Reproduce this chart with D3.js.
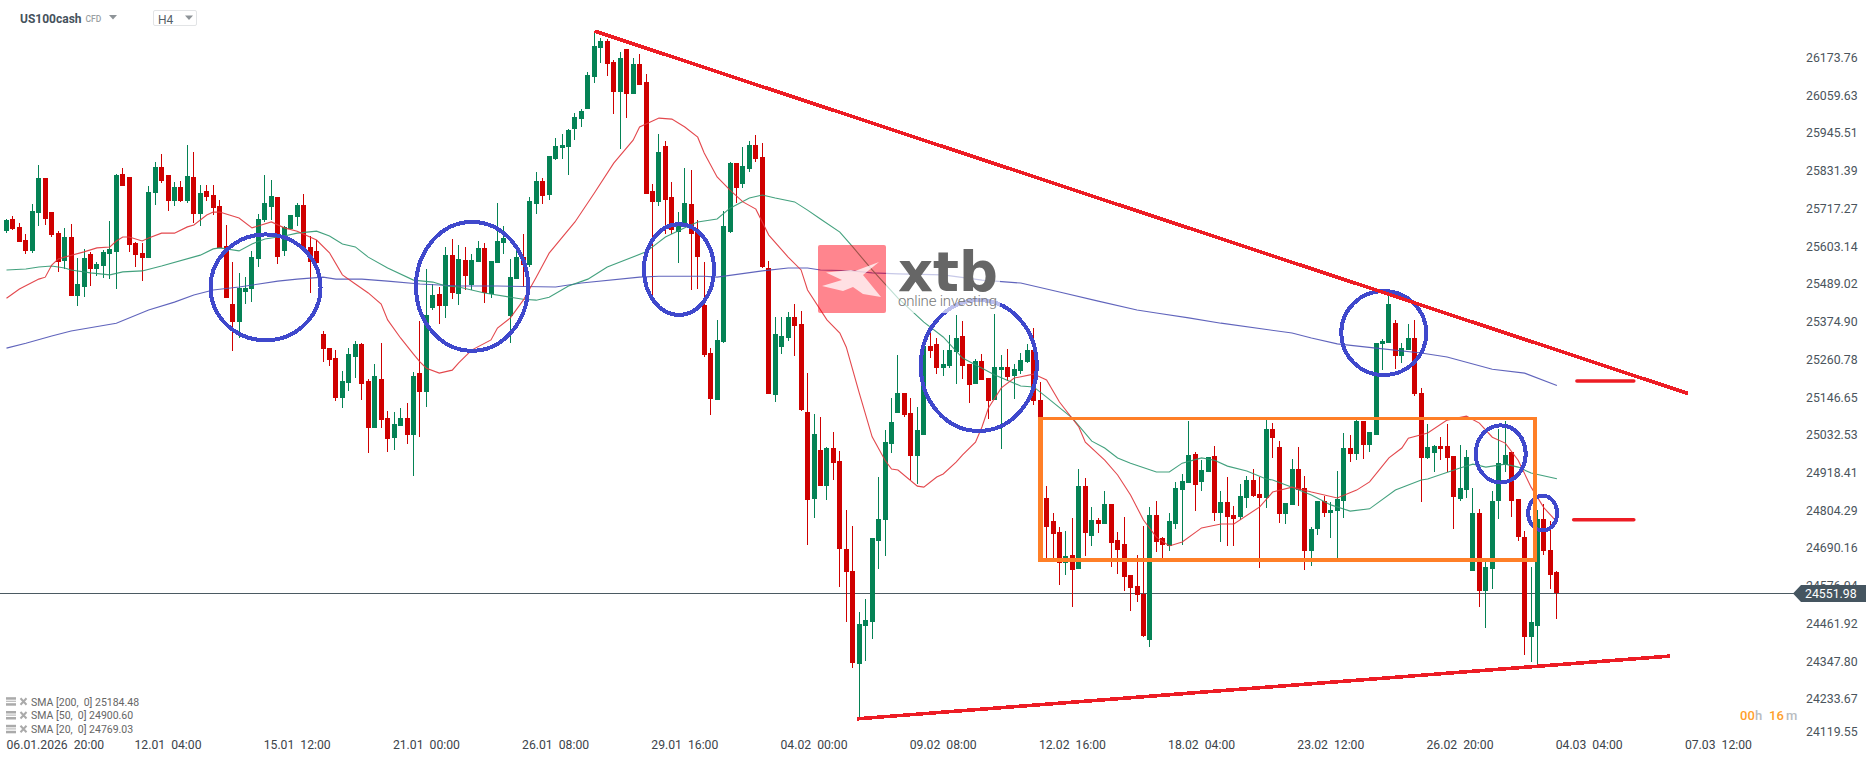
<!DOCTYPE html>
<html><head><meta charset="utf-8">
<script src="https://cdn.jsdelivr.net/npm/d3@7/dist/d3.min.js"></script>
<style>
html,body{margin:0;padding:0;background:#fff;overflow:hidden}
svg{display:block;font-family:Roboto,"Liberation Sans",sans-serif}
text{white-space:pre}
</style></head><body><div id="c"></div>
<script>
const opens=[25655,25691,25667,25627,25594,25709,25816,25712,25649,25563,
25636,25456,25484,25585,25539,25548,25585,25591,25828,25819,
25618,25588,25572,25770,25849,25825,25746,25788,25746,25819,
25706,25776,25764,25731,25609,25432,25377,25469,25478,25569,
25688,25728,25758,25594,25660,25697,25734,25606,25594,25341,
25298,25268,25146,25192,25271,25310,25198,25055,25204,25085,
25024,25061,25085,25033,25222,25164,25420,25463,25426,25582,
25463,25566,25490,25560,25603,25463,25557,25618,25396,25508,
25575,25551,25737,25806,25764,25874,25907,25910,25965,25995,
26026,26123,26211,26233,26169,26077,26208,26071,26163,26108,
25776,25743,25913,25758,25651,25673,25737,25651,25429,25283,
25140,25317,25651,25861,25797,25843,25916,25880,25542,25155,
25301,25329,25393,25371,25104,24839,24988,24878,24994,24954,
24686,24620,24337,24453,24465,24711,24775,25006,25101,25162,
25101,24970,25033,25304,25310,25237,25243,25286,25335,25250,
25189,25259,25207,25140,25232,25241,25213,25228,25256,25292,
25140,24842,24772,24738,24644,24668,24625,24878,24726,24775,
24763,24824,24714,24702,24608,24574,24550,24410,24790,24720,
24696,24763,24866,24888,24976,24891,24921,24970,24796,24830,
24790,24784,24842,24897,24854,24842,25052,24997,24793,24821,
24930,24872,24681,24748,24833,24796,24802,24833,24994,24976,
25076,25003,25033,25310,25313,25374,25274,25292,25329,25162,
24964,24979,25000,25000,24970,24839,24866,24620,24796,24559,
24626,24833,24942,24982,24839,24723,24419,24453,24778,24684,
24617];
const closes=[25688,25660,25621,25594,25716,25816,25691,25642,25560,25636,
25456,25493,25572,25539,25554,25591,25600,25825,25791,25612,
25582,25572,25773,25849,25806,25746,25788,25746,25822,25706,
25770,25758,25725,25603,25451,25377,25481,25481,25575,25691,
25740,25761,25575,25667,25703,25734,25600,25560,25557,25295,
25262,25146,25198,25280,25310,25188,25055,25213,25079,25021,
25067,25085,25033,25213,25164,25399,25459,25426,25582,25466,
25569,25518,25566,25603,25466,25563,25624,25633,25514,25575,
25551,25746,25806,25761,25883,25913,25916,25962,26001,26020,
26129,26217,26233,26163,26077,26181,26071,26163,26099,25767,
25743,25895,25749,25658,25679,25740,25645,25575,25277,25143,
25323,25670,25861,25785,25852,25916,25874,25545,25158,25341,
25335,25393,25365,25110,24836,25037,24878,24994,24948,24686,
24617,24340,24459,24471,24720,24778,25012,25073,25162,25095,
24970,25049,25304,25289,25237,25250,25292,25329,25243,25186,
25259,25201,25137,25241,25241,25210,25234,25262,25292,25137,
24836,24754,24732,24644,24665,24622,24878,24735,24775,24763,
24824,24705,24684,24601,24568,24547,24422,24790,24708,24699,
24772,24872,24894,24973,24882,24927,24967,24796,24830,24784,
24778,24848,24897,24848,24842,25052,25024,24793,24827,24930,
24866,24681,24748,24833,24796,24805,24839,24994,24976,25076,
25003,25043,25313,25319,25432,25274,25298,25329,25158,24964,
24997,25000,24991,24964,24845,24872,24967,24796,24559,24632,
24833,24948,24973,24833,24723,24419,24465,24778,24681,24608,
24551.98];
const highs=[25691,25700,25679,25645,25737,25855,25816,25712,25655,25664,
25676,25572,25600,25591,25560,25597,25685,25828,25846,25819,
25621,25618,25791,25864,25889,25825,25803,25806,25916,25895,
25794,25794,25794,25749,25673,25560,25527,25514,25594,25706,
25825,25810,25758,25670,25703,25740,25767,25640,25627,25350,
25298,25292,25228,25298,25319,25313,25204,25250,25313,25107,
25103,25116,25131,25225,25381,25539,25493,25484,25606,25630,
25612,25606,25585,25624,25618,25563,25740,25670,25569,25603,
25645,25758,25834,25816,25883,25937,25950,25965,26014,26026,
26138,26263,26242,26239,26175,26199,26208,26181,26193,26132,
25797,25950,25928,25803,25712,25846,25840,25688,25560,25298,
25384,25715,25864,25861,25910,25928,25947,25922,25563,25393,
25393,25408,25432,25411,25222,25098,25088,24997,25043,24985,
24805,24757,24495,24535,24720,24906,25049,25147,25277,25162,
25147,25119,25304,25353,25329,25292,25338,25399,25381,25250,
25265,25280,25207,25402,25277,25295,25250,25283,25310,25359,
25195,24878,24796,24754,24741,24781,24930,24903,24815,24781,
24863,24824,24738,24784,24608,24668,24757,24815,24833,24723,
24796,24890,24915,25076,24982,24957,24967,25000,24863,24906,
24818,24885,24909,24930,24906,25079,25070,25015,24827,24961,
24997,24909,24754,24833,24848,24830,24924,25040,25034,25079,
25076,25043,25313,25326,25460,25384,25313,25371,25384,25177,
25067,25003,25027,25067,24970,25003,24988,24872,24808,24647,
24863,25052,25076,24982,24839,24741,24632,24805,24824,24772,
24620];
const lows=[25649,25657,25621,25585,25588,25670,25673,25636,25530,25539,
25456,25426,25453,25487,25517,25512,25509,25478,25791,25591,
25545,25502,25572,25733,25800,25716,25731,25743,25740,25679,
25670,25746,25703,25603,25451,25289,25328,25432,25438,25545,
25682,25688,25554,25578,25660,25670,25600,25466,25557,25256,
25243,25137,25116,25168,25207,25140,24979,25055,25055,24982,
24988,25061,25006,24909,25027,25119,25414,25371,25389,25447,
25429,25475,25475,25560,25435,25450,25557,25585,25313,25508,
25484,25545,25706,25737,25749,25870,25874,25825,25931,25971,
26026,26105,26166,26126,26010,25904,25998,26071,26099,25767,
25444,25731,25645,25645,25557,25673,25475,25478,25271,25094,
25140,25314,25648,25740,25785,25834,25864,25542,25158,25134,
25280,25320,25274,25107,24699,24781,24878,24836,24896,24571,
24464,24325,24170,24346,24413,24626,24665,24979,25101,25089,
24896,24885,25033,25268,25219,25213,25237,25189,25204,25131,
25189,25201,25082,25140,24991,25198,25143,25219,25253,25125,
24738,24656,24656,24577,24608,24510,24625,24665,24696,24735,
24763,24632,24611,24559,24498,24526,24419,24389,24677,24656,
24680,24747,24699,24888,24802,24863,24921,24772,24708,24696,
24696,24775,24812,24845,24629,24812,24964,24766,24763,24821,
24818,24623,24635,24729,24784,24720,24656,24781,24951,24957,
24961,24982,25033,25232,25313,25234,25253,25292,25152,24830,
24961,24921,24957,24921,24748,24833,24842,24620,24510,24446,
24565,24778,24921,24784,24711,24364,24343,24334,24668,24565,
24473];

const sma20Index=[0,2,5,6,7,8,9,12,14,16,17,18,19,21,22,24,26,28,29,31,32,33,36,38,41,43,45,48,50,52,54,56,58,59,61,63,64,65,67,69,70,72,75,76,78,80,82,84,88,91,94,97,98,101,103,105,107,108,110,112,114,116,118,121,123,124,127,129,130,132,134,136,137,138,141,142,144,145,147,148,150,151,152,154,156,159,161,163,166,167,170,172,174,176,178,180,182,185,188,190,194,196,199,202,206,209,211,214,216,217,220,223,226,228,230,232,234,236,238,240];
const sma20Values=[25450,25478,25508,25514,25551,25569,25575,25591,25603,25606,25624,25636,25636,25624,25633,25648,25648,25667,25673,25703,25712,25712,25694,25664,25682,25664,25654,25627,25588,25521,25493,25466,25432,25384,25329,25280,25256,25237,25222,25231,25253,25292,25323,25359,25390,25444,25514,25587,25682,25770,25861,25931,25971,25998,25995,25971,25940,25892,25819,25779,25743,25721,25642,25575,25536,25475,25384,25344,25301,25162,25028,24957,24930,24927,24878,24875,24906,24915,24951,24973,25012,25058,25116,25177,25207,25219,25201,25134,25058,25012,24957,24912,24851,24775,24723,24696,24708,24751,24763,24763,24815,24860,24875,24860,24842,24866,24891,24964,24994,25024,25040,25079,25091,25070,25027,25009,24957,24875,24812,24769];
const sma50Index=[0,3,5,7,9,10,13,16,18,21,24,30,32,33,36,38,40,43,45,48,50,52,54,56,59,63,66,68,70,74,78,80,82,84,87,90,93,99,102,105,107,110,112,115,117,119,122,124,126,129,131,134,138,142,145,148,153,157,159,161,165,168,170,172,174,178,180,182,185,187,189,192,195,196,199,202,205,208,211,215,219,220,225,227,229,232,234,236,240];
const sma50Values=[25536,25539,25545,25548,25542,25536,25527,25521,25530,25533,25548,25581,25600,25603,25594,25615,25630,25639,25648,25654,25639,25615,25606,25575,25542,25505,25499,25487,25484,25466,25453,25447,25444,25453,25487,25508,25545,25591,25636,25664,25682,25691,25724,25755,25764,25755,25743,25718,25691,25651,25606,25536,25450,25377,25332,25268,25216,25183,25180,25149,25085,25015,24994,24964,24948,24921,24921,24948,24964,24957,24939,24924,24900,24897,24875,24851,24821,24802,24809,24866,24897,24900,24933,24945,24936,24945,24936,24918,24900.6];
const sma200Index=[0,3,7,10,17,22,26,29,32,36,42,45,49,51,55,59,64,70,76,85,89,98,101,108,110,117,121,124,126,131,134,138,145,151,157,163,169,175,178,183,188,199,202,206,212,219,223,230,235,240];
const sma200Values=[25298,25313,25335,25350,25374,25414,25438,25460,25475,25484,25502,25508,25514,25508,25508,25502,25493,25487,25487,25484,25496,25514,25517,25517,25514,25533,25542,25542,25536,25533,25527,25524,25521,25505,25496,25469,25441,25414,25405,25390,25374,25344,25329,25311,25298,25283,25271,25234,25222,25184.48];

const priceTicks=[26173.76,26059.63,25945.51,25831.39,25717.27,25603.14,25489.02,25374.90,25260.78,25146.65,25032.53,24918.41,24804.29,24690.16,24576.04,24461.92,24347.80,24233.67,24119.55];
const timeIndex=[0,25,45,65,85,105,125,145,165,185,205,225,245,265];
const timeLabels=["06.01.2026  20:00","12.01  04:00","15.01  12:00","21.01  00:00","26.01  08:00","29.01  16:00","04.02  00:00","09.02  08:00","12.02  16:00","18.02  04:00","23.02  12:00","26.02  20:00","04.03  04:00","07.03  12:00"];
const legendLabels=["SMA [200,  0] 25184.48","SMA [50,  0] 24900.60","SMA [20,  0] 24769.03"];
const lastPrice=24551.98;

// analyst drawings, in candle-index / price units
const trendUpper=[[91,26263],[260.3,25160]];
const trendLower=[[131.66,24170],[257.5,24361]];
const levelUpper=[[243.1,25198],[251.9,25198]];
const levelLower=[[242.6,24776],[251.9,24776]];
const rangeBox=[160,25084,236.6,24653];
const circleCenterIndex=[40.1,72.06,104.1,150.5,213.2,231.3,237.8];
const circleCenterPrice=[25483,25486,25537,25245,25344,24976,24796];
const circleRadiusIndex=[8.51,8.67,5.42,8.98,6.58,3.87,2.24];
const circleRadiusPrice=[161,196,138,199,128,87,53];

const W=1866,H=761;
const x=d3.scaleLinear().domain([0,240]).range([6.5,6.5+240*6.46]);
const y=d3.scaleLinear().domain([26357.4,24227.3]).range([0,700]);
const yLabels=d3.scaleLinear().domain([24551.98,26173.76]).range([593.3,57.2]);
const GREEN="#058255",RED="#cf0000";

const svg=d3.select("#c").append("svg").attr("width",W).attr("height",H).attr("viewBox",`0 0 ${W} ${H}`);

// last-price line
const gLast=svg.append("g");
gLast.append("line").attr("x1",0).attr("x2",1794).attr("y1",Math.round(y(lastPrice))+.5).attr("y2",Math.round(y(lastPrice))+.5)
  .attr("stroke","#4b5a62").attr("stroke-width",1);

// candles
const idx=d3.range(opens.length);
const cg=svg.append("g").attr("shape-rendering","crispEdges");
const candle=cg.selectAll("g").data(idx).join("g").attr("fill",i=>closes[i]>=opens[i]?GREEN:RED);
candle.append("rect").attr("x",i=>Math.floor(x(i))).attr("width",1)
  .attr("y",i=>Math.round(y(highs[i]))).attr("height",i=>Math.max(1,Math.round(y(lows[i]))-Math.round(y(highs[i]))));
candle.append("rect").attr("x",i=>Math.floor(x(i))-2).attr("width",5)
  .attr("y",i=>Math.round(y(Math.max(opens[i],closes[i]))))
  .attr("height",i=>Math.max(1,Math.round(y(Math.min(opens[i],closes[i])))-Math.round(y(Math.max(opens[i],closes[i])))));

// SMA lines
const line=d3.line().x(d=>x(d[0])).y(d=>y(d[1]));
[[sma200Index,sma200Values,"#4f53b5"],[sma50Index,sma50Values,"#2f9770"],[sma20Index,sma20Values,"#e0343a"]].forEach(([a,b,c])=>{
  svg.append("path").attr("d",line(a.map((v,k)=>[v,b[k]]))).attr("fill","none").attr("stroke",c).attr("stroke-width",1.1).attr("stroke-opacity",.9);
});

// drawings
const dr=svg.append("g");
dr.append("g").attr("shape-rendering","crispEdges").selectAll("ellipse").data(circleCenterIndex).join("ellipse")
  .attr("cx",d=>x(d)).attr("cy",(d,k)=>y(circleCenterPrice[k]))
  .attr("rx",(d,k)=>x(circleRadiusIndex[k])-x(0)).attr("ry",(d,k)=>y(26357.4-circleRadiusPrice[k]))
  .attr("fill","none").attr("stroke","#3f48cc").attr("stroke-width",4);
dr.append("rect").attr("x",x(rangeBox[0])).attr("y",y(rangeBox[1])).attr("width",x(rangeBox[2])-x(rangeBox[0])).attr("height",y(rangeBox[3])-y(rangeBox[1]))
  .attr("fill","none").attr("stroke","#ff7f27").attr("stroke-width",3.4).attr("shape-rendering","crispEdges");
dr.append("line").attr("x1",x(rangeBox[0])).attr("x2",x(rangeBox[0])).attr("y1",y(rangeBox[1])).attr("y2",y(rangeBox[3]))
  .attr("stroke","#ff7f27").attr("stroke-width",5).attr("shape-rendering","crispEdges");
[trendUpper,trendLower].forEach(p=>{
  dr.append("path").attr("d",line(p)).attr("fill","none").attr("stroke","#ed1c24").attr("stroke-width",3.6).attr("shape-rendering","crispEdges");
});
[levelUpper,levelLower].forEach(p=>{
  dr.append("path").attr("d",line(p)).attr("fill","none").attr("stroke","#ed1c24").attr("stroke-width",3.6).attr("stroke-linecap","round");
});

// logo watermark
const lg=svg.append("g");
lg.append("rect").attr("x",886).attr("y",245).attr("width",114).attr("height",68).attr("fill","#fff").attr("fill-opacity",.65);
lg.append("rect").attr("x",818).attr("y",245).attr("width",68).attr("height",68).attr("rx",2).attr("fill","#fe0013").attr("fill-opacity",.48);
lg.append("polygon").attr("points","826,272.5 851,270 855,271 879,262 863,275 881,297 863,294 853,287 843,291 822,286 842,280").attr("fill","#fff").attr("fill-opacity",.75);
lg.append("text").attr("x",898).attr("y",291).attr("font-family","'DejaVu Sans',sans-serif").attr("font-weight",700).attr("font-size",56)
  .attr("textLength",100).attr("lengthAdjust","spacingAndGlyphs").attr("fill","#666").text("xtb");
lg.append("text").attr("x",898).attr("y",306).attr("font-size",15).attr("font-weight",300).attr("textLength",99).attr("lengthAdjust","spacing").attr("fill","#777").text("online investing");

// price axis
const axis=d3.axisRight(yLabels).tickValues(priceTicks).tickSize(0).tickPadding(0).tickFormat(d=>d.toFixed(2));
const ga=svg.append("g").attr("transform","translate(1806,0)").call(axis);
ga.select(".domain").remove();
ga.selectAll("text").attr("font-family","Roboto").attr("font-size",12.3).attr("fill","#4a545c").attr("dy","0.35em").attr("x",0);
ga.selectAll("text").filter(d=>d===priceTicks[priceTicks.length-1]).attr("y",-5);

// last price tag
const ly=Math.round(y(lastPrice))+.5;
svg.append("path").attr("d",`M1793,${ly} L1801,${ly-8.5} L1866,${ly-8.5} L1866,${ly+8.5} L1801,${ly+8.5} Z`).attr("fill","#455560");
svg.append("text").attr("x",1805).attr("y",ly+4.3).attr("font-size",12.3).attr("fill","#fff").text(lastPrice.toFixed(2));

// time axis
svg.append("g").selectAll("text").data(timeIndex).join("text")
  .attr("x",(d,k)=>x(d)).attr("y",748.5).attr("font-size",12.2).attr("fill","#3c444b")
  .attr("text-anchor",(d,k)=>k===0?"start":"middle").text((d,k)=>timeLabels[k]);

// legend
const lgY=[701.7,715.5,729.3];
const leg=svg.append("g").selectAll("g").data(legendLabels).join("g").attr("transform",(d,k)=>`translate(0,${lgY[k]})`);
leg.append("rect").attr("x",6).attr("y",-4.5).attr("width",10).attr("height",2.5).attr("fill","#aaa");
leg.append("rect").attr("x",6).attr("y",-1).attr("width",10).attr("height",1.2).attr("fill","#bbb");
leg.append("rect").attr("x",6).attr("y",1.5).attr("width",10).attr("height",2.5).attr("fill","#aaa");
leg.append("path").attr("d","M20.5,-3.5 L26.5,3 M26.5,-3.5 L20.5,3").attr("stroke","#aaa").attr("stroke-width",2);
leg.append("text").attr("x",31).attr("y",3.8).attr("font-size",10.5).attr("fill","#666").text(d=>d);

// header
svg.append("text").attr("x",20).attr("y",22.5).attr("font-size",12).attr("font-weight",700).attr("fill","#45525c").text("US100cash");
svg.append("text").attr("x",85.5).attr("y",22).attr("font-size",8.5).attr("font-weight",500).attr("fill","#9a9fa3").text("CFD");
svg.append("path").attr("d","M109,15 L117,15 L113,19.5 Z").attr("fill","#8e9498");
svg.append("rect").attr("x",153.5).attr("y",10.5).attr("width",43).attr("height",15).attr("rx",1.5).attr("fill","#fff").attr("stroke","#e2e4e6");
svg.append("text").attr("x",158).attr("y",24).attr("font-size",12).attr("fill","#555f67").text("H4");
svg.append("path").attr("d","M185,15.5 L193,15.5 L189,20 Z").attr("fill","#8e9498");

// countdown
const cd=svg.append("text").attr("y",720).attr("font-size",13).attr("font-weight",500);
cd.append("tspan").attr("x",1740).attr("fill","#ff9f2b").text("00");
cd.append("tspan").attr("x",1755).attr("fill","#b9bcbf").text("h");
cd.append("tspan").attr("x",1769).attr("fill","#ff9f2b").text("16");
cd.append("tspan").attr("x",1786).attr("fill","#b9bcbf").text("m");
</script></body></html>
